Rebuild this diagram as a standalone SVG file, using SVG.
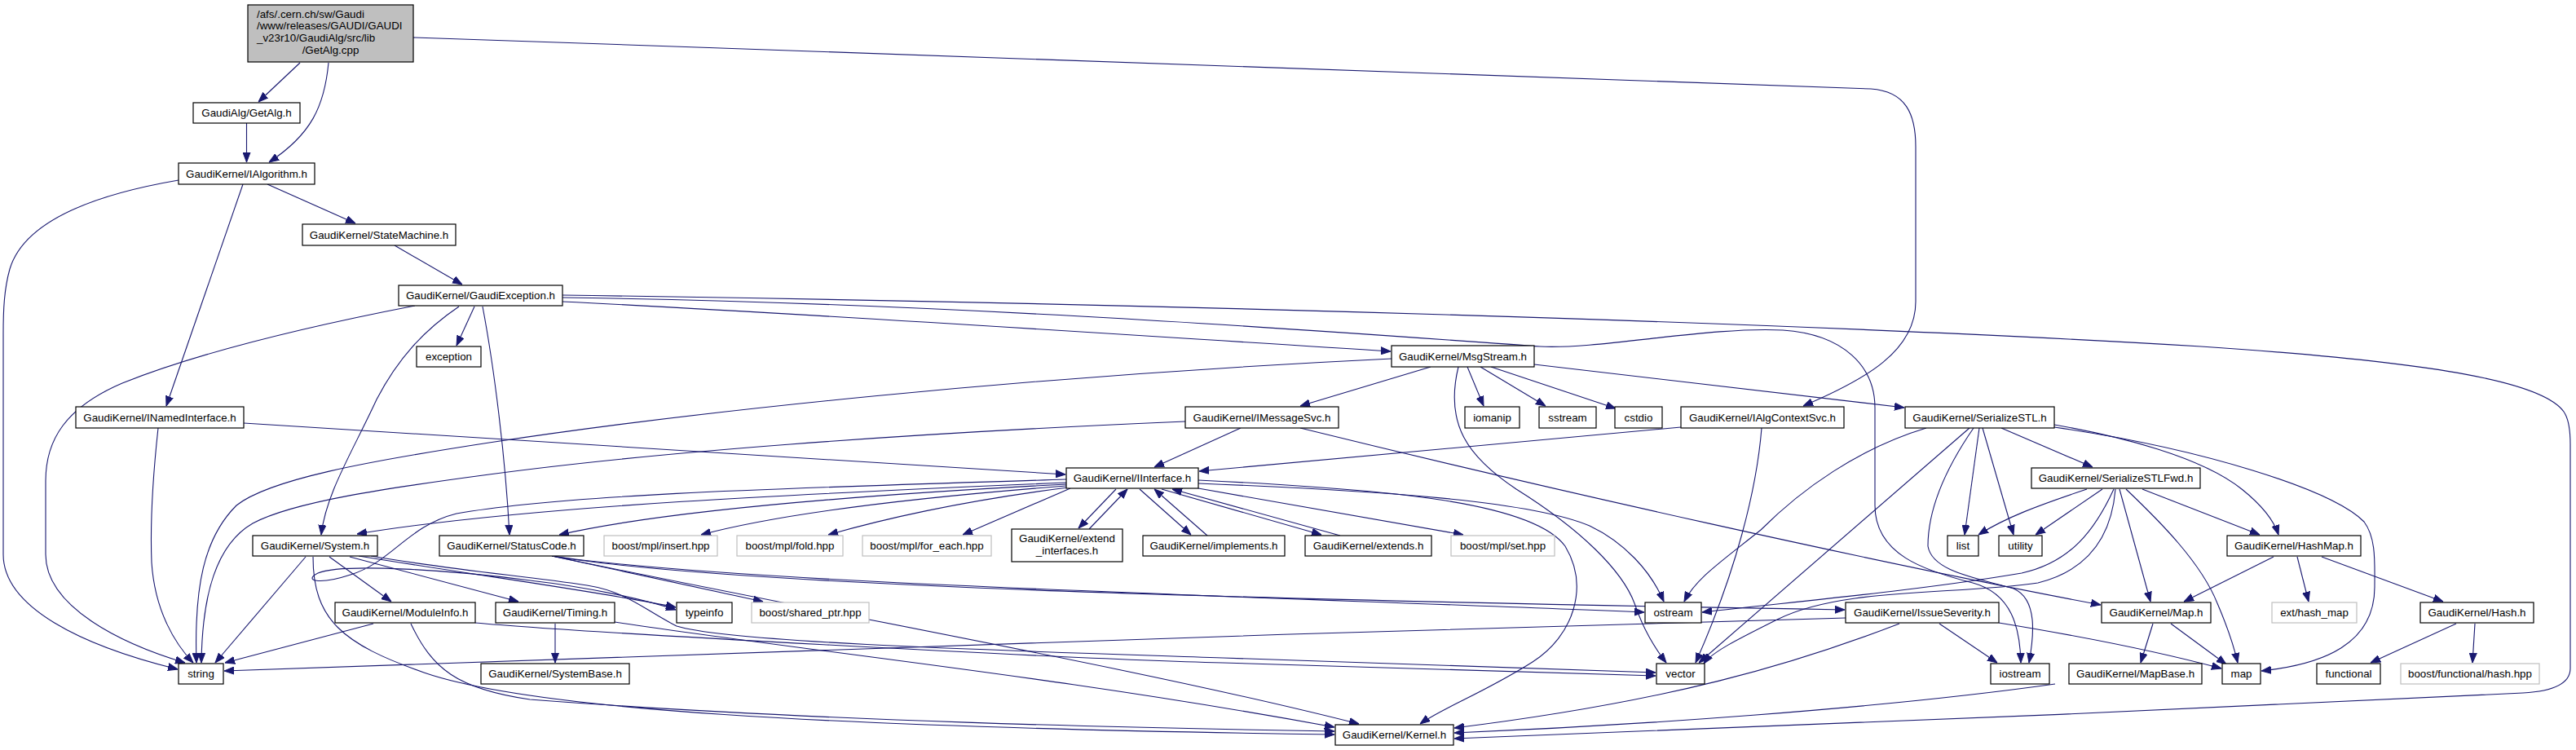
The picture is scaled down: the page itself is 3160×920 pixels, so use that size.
<svg xmlns="http://www.w3.org/2000/svg" width="3160" height="920" viewBox="0 0 3160 920">
<style>
.n rect{fill:#fff;stroke:#000;stroke-width:1.2}
.g rect{fill:#fff;stroke:#bfbfbf;stroke-width:1.2}
text{font-family:"Liberation Sans",Arial,sans-serif;font-size:13.33px;fill:#000;text-anchor:middle}
.e path{fill:none;stroke:#191970;stroke-width:1.1;marker-end:url(#arr)}
</style>
<defs>
<marker id="arr" viewBox="0 0 12 10" refX="12" refY="5" markerWidth="12" markerHeight="10" orient="auto" markerUnits="userSpaceOnUse"><path d="M0,0.5 L12,5 L0,9.5 z" fill="#191970" stroke="#191970" stroke-width="1"/></marker>
</defs>
<rect x="0" y="0" width="3160" height="920" fill="#fff"/>
<g class="e" id="edges">
<path d="M368,77 L317,125"/>
<path d="M403,77 C398,130 382,165 330,199"/>
<path d="M507,46 C1200,70 2000,96 2295,109 C2338,112 2350,140 2350,180 L2350,370 C2350,430 2290,465 2212,498"/>
<path d="M302.5,151 L302.5,199"/>
<path d="M219,221 C120,238 30,270 12,330 C5,355 4,380 4,410 L4,680 C4,745 100,792 218,821"/>
<path d="M298,226 L204,498"/>
<path d="M328,226 L436,274"/>
<path d="M484,301 L567,349"/>
<path d="M509,375 C380,400 250,430 150,470 C80,500 56,540 56,590 L56,680 C56,745 150,790 227,813"/>
<path d="M582,376 L560,424"/>
<path d="M563,376 C520,405 488,440 462,490 C432,555 400,605 394,656"/>
<path d="M592,376 C606,450 620,560 625,656"/>
<path d="M690,370 C1000,385 1400,412 1706,431"/>
<path d="M690,365 C1200,372 1700,412 1889,425 C1960,429 2100,400 2187,405 C2262,410 2300,450 2300,500 L2300,620 C2300,680 2360,700 2420,715 C2468,728 2478,770 2479,813"/>
<path d="M690,362 C1400,372 2200,395 2700,425 C3000,445 3120,470 3145,505 C3152,515 3153,530 3153,545 L3153,820 C3153,840 3130,848 3095,850 C2700,870 2100,895 1784,906"/>
<path d="M299,519 L1307,582"/>
<path d="M194,525 C188,580 184,640 186,690 C190,750 215,790 237,813"/>
<path d="M1707,440 C1250,462 850,505 600,543 C450,566 330,588 290,620 C250,660 238,720 241,813"/>
<path d="M1454,517 C1100,532 800,555 600,582 C480,598 360,615 310,642 C265,668 248,730 247,813"/>
<path d="M1755,450 L1595,498"/>
<path d="M1800,450 L1820,498"/>
<path d="M1816,450 L1896,498"/>
<path d="M1829,450 L1982,501"/>
<path d="M1789,450 C1772,520 1800,560 1860,600 C1940,650 1990,700 2005,740 C2015,770 2030,795 2044,813"/>
<path d="M1882,447 L2336,500"/>
<path d="M1522,525 L1416,573"/>
<path d="M1595,525 C1900,600 2300,690 2577,742"/>
<path d="M2062,524 L1471,578"/>
<path d="M2161,525 C2155,600 2130,700 2080,813"/>
<path d="M1308,592 C1000,605 650,620 438,655"/>
<path d="M1308,594 C1000,610 800,630 686,656"/>
<path d="M1308,596 C1100,612 950,632 860,656"/>
<path d="M1310,598 C1200,612 1100,632 1016,656"/>
<path d="M1313,599 L1181,656"/>
<path d="M1369,600 L1323,648"/>
<path d="M1336,649 L1383,600"/>
<path d="M1398,600 L1461,656"/>
<path d="M1481,657 L1416,600"/>
<path d="M1425,600 L1621,656"/>
<path d="M1644,657 L1438,600"/>
<path d="M1470,599 L1795,656"/>
<path d="M1470,589 C1700,600 1880,615 1920,670 C1950,720 1930,780 1880,812 C1820,850 1770,868 1742,888"/>
<path d="M1470,593 C1700,602 1880,615 1950,645 C1992,665 2025,700 2041,738"/>
<path d="M1308,588 C1000,598 700,605 560,630 C500,645 480,690 430,705 C390,718 372,712 390,703 C420,690 560,700 650,712 C720,720 790,735 829,748"/>
<path d="M375,683 L264,813"/>
<path d="M404,683 L480,738"/>
<path d="M429,683 L636,738"/>
<path d="M440,682 C600,708 750,728 829,745"/>
<path d="M455,682 C560,700 640,706 720,718 C770,726 790,748 830,768 C900,790 1300,800 1500,807 C1750,815 1900,820 2031,825"/>
<path d="M384,683 C384,760 420,790 520,825 C650,870 1000,892 1637,901"/>
<path d="M677,682 L936,738"/>
<path d="M677,682 C900,715 1500,730 2017,751"/>
<path d="M677,682 C900,720 1600,737 2263,748"/>
<path d="M677,682 C1000,750 1400,820 1667,888"/>
<path d="M458,765 L276,813"/>
<path d="M583,764 C700,775 1300,808 1500,813 C1750,820 1900,826 2031,829"/>
<path d="M504,765 C530,820 560,845 650,858 C1000,885 1400,893 1637,897"/>
<path d="M681,765 L681,813"/>
<path d="M754,763 C1000,800 1300,830 1637,892"/>
<path d="M2264,758 C1600,775 800,805 275,823"/>
<path d="M2330,765 C2200,815 2050,860 1784,893"/>
<path d="M2379,765 L2450,813"/>
<path d="M2452,764 C2550,780 2650,800 2725,820"/>
<path d="M2363,525 C2280,550 2210,600 2160,650 C2110,690 2080,710 2066,738"/>
<path d="M2416,525 L2084,813"/>
<path d="M2428,525 L2410,656"/>
<path d="M2432,525 L2470,656"/>
<path d="M2455,525 L2567,573"/>
<path d="M2421,525 C2390,570 2365,620 2365,670 C2370,700 2420,708 2470,722 C2500,735 2495,780 2489,813"/>
<path d="M2520,521 C2600,535 2700,560 2750,600 C2775,620 2790,640 2795,656"/>
<path d="M2520,524 C2700,550 2860,600 2900,640 C2915,660 2913,690 2913,720 C2913,790 2850,815 2774,823"/>
<path d="M2560,600 C2500,620 2460,635 2427,656"/>
<path d="M2579,600 L2497,656"/>
<path d="M2593,600 C2570,650 2540,690 2480,703 C2350,725 2200,738 2088,751"/>
<path d="M2595,600 C2590,660 2560,700 2500,715 C2400,730 2260,720 2180,760 C2130,785 2100,800 2090,814"/>
<path d="M2600,600 L2638,738"/>
<path d="M2608,600 C2650,640 2700,690 2720,740 C2735,775 2742,800 2745,813"/>
<path d="M2628,600 L2772,656"/>
<path d="M2789,683 L2679,738"/>
<path d="M2818,683 L2832,738"/>
<path d="M2848,683 L2997,738"/>
<path d="M3013,765 L2908,813"/>
<path d="M3036,765 L3033,813"/>
<path d="M2641,765 L2626,813"/>
<path d="M2663,765 L2731,815"/>
<path d="M2521,839 C2300,870 2000,890 1784,899"/>
</g>
<g class="n" id="n_root"><rect x="304" y="6" width="203" height="70" style="fill:#bfbfbf"/>
<text x="315" y="21.5" style="text-anchor:start">/afs/.cern.ch/sw/Gaudi</text>
<text x="315" y="36.2" style="text-anchor:start">/www/releases/GAUDI/GAUDI</text>
<text x="315" y="50.9" style="text-anchor:start">_v23r10/GaudiAlg/src/lib</text>
<text x="405.5" y="65.6">/GetAlg.cpp</text></g>
<g class="n" id="n_getalg"><rect x="237" y="126" width="131" height="25"/><text x="302.5" y="143">GaudiAlg/GetAlg.h</text></g>
<g class="n" id="n_ialgorithm"><rect x="219" y="200" width="167" height="26"/><text x="302.5" y="217.5">GaudiKernel/IAlgorithm.h</text></g>
<g class="n" id="n_statemachine"><rect x="371" y="275" width="188" height="26"/><text x="465" y="292.5">GaudiKernel/StateMachine.h</text></g>
<g class="n" id="n_gaudiexception"><rect x="489" y="350" width="201" height="25"/><text x="589.5" y="367">GaudiKernel/GaudiException.h</text></g>
<g class="n" id="n_exception"><rect x="511" y="425" width="79" height="25"/><text x="550.5" y="442">exception</text></g>
<g class="n" id="n_inamedinterface"><rect x="93" y="499" width="206" height="26"/><text x="196" y="516.5">GaudiKernel/INamedInterface.h</text></g>
<g class="n" id="n_msgstream"><rect x="1707" y="424" width="175" height="26"/><text x="1794.5" y="441.5">GaudiKernel/MsgStream.h</text></g>
<g class="n" id="n_imessagesvc"><rect x="1454" y="499" width="188" height="26"/><text x="1548" y="516.5">GaudiKernel/IMessageSvc.h</text></g>
<g class="n" id="n_iomanip"><rect x="1797" y="499" width="67" height="26"/><text x="1830.5" y="516.5">iomanip</text></g>
<g class="n" id="n_sstream"><rect x="1888" y="499" width="70" height="26"/><text x="1923" y="516.5">sstream</text></g>
<g class="n" id="n_cstdio"><rect x="1981" y="499" width="58" height="26"/><text x="2010" y="516.5">cstdio</text></g>
<g class="n" id="n_ialgcontextsvc"><rect x="2062" y="499" width="200" height="26"/><text x="2162" y="516.5">GaudiKernel/IAlgContextSvc.h</text></g>
<g class="n" id="n_serializestl"><rect x="2337" y="499" width="183" height="26"/><text x="2428.5" y="516.5">GaudiKernel/SerializeSTL.h</text></g>
<g class="n" id="n_iinterface"><rect x="1308" y="574" width="162" height="25"/><text x="1389" y="591">GaudiKernel/IInterface.h</text></g>
<g class="n" id="n_serializestlfwd"><rect x="2492" y="574" width="207" height="25"/><text x="2595.5" y="591">GaudiKernel/SerializeSTLFwd.h</text></g>
<g class="n" id="n_system"><rect x="310" y="657" width="153" height="25"/><text x="386.5" y="674">GaudiKernel/System.h</text></g>
<g class="n" id="n_statuscode"><rect x="539" y="657" width="177" height="25"/><text x="627.5" y="674">GaudiKernel/StatusCode.h</text></g>
<g class="g" id="n_insert"><rect x="741" y="657" width="139" height="25"/><text x="810.5" y="674">boost/mpl/insert.hpp</text></g>
<g class="g" id="n_fold"><rect x="904" y="657" width="130" height="25"/><text x="969" y="674">boost/mpl/fold.hpp</text></g>
<g class="g" id="n_foreach"><rect x="1058" y="657" width="158" height="25"/><text x="1137" y="674">boost/mpl/for_each.hpp</text></g>
<g class="n" id="n_extendinterfaces"><rect x="1241" y="649" width="136" height="40"/><text x="1309" y="665">GaudiKernel/extend</text><text x="1309" y="680">_interfaces.h</text></g>
<g class="n" id="n_implements"><rect x="1402" y="657" width="174" height="25"/><text x="1489" y="674">GaudiKernel/implements.h</text></g>
<g class="n" id="n_extends"><rect x="1601" y="657" width="155" height="25"/><text x="1678.5" y="674">GaudiKernel/extends.h</text></g>
<g class="g" id="n_set"><rect x="1780" y="657" width="127" height="25"/><text x="1843.5" y="674">boost/mpl/set.hpp</text></g>
<g class="n" id="n_list"><rect x="2389" y="657" width="38" height="25"/><text x="2408" y="674">list</text></g>
<g class="n" id="n_utility"><rect x="2452" y="657" width="53" height="25"/><text x="2478.5" y="674">utility</text></g>
<g class="n" id="n_hashmap"><rect x="2732" y="657" width="164" height="25"/><text x="2814" y="674">GaudiKernel/HashMap.h</text></g>
<g class="n" id="n_moduleinfo"><rect x="411" y="739" width="172" height="25"/><text x="497" y="756">GaudiKernel/ModuleInfo.h</text></g>
<g class="n" id="n_timing"><rect x="608" y="739" width="146" height="25"/><text x="681" y="756">GaudiKernel/Timing.h</text></g>
<g class="n" id="n_typeinfo"><rect x="830" y="739" width="68" height="25"/><text x="864" y="756">typeinfo</text></g>
<g class="g" id="n_sharedptr"><rect x="922" y="739" width="144" height="25"/><text x="994" y="756">boost/shared_ptr.hpp</text></g>
<g class="n" id="n_ostream"><rect x="2018" y="739" width="69" height="25"/><text x="2052.5" y="756">ostream</text></g>
<g class="n" id="n_issueseverity"><rect x="2264" y="739" width="188" height="25"/><text x="2358" y="756">GaudiKernel/IssueSeverity.h</text></g>
<g class="n" id="n_maph"><rect x="2578" y="739" width="134" height="25"/><text x="2645" y="756">GaudiKernel/Map.h</text></g>
<g class="g" id="n_exthashmap"><rect x="2787" y="739" width="104" height="25"/><text x="2839" y="756">ext/hash_map</text></g>
<g class="n" id="n_hash"><rect x="2969" y="739" width="139" height="25"/><text x="3038.5" y="756">GaudiKernel/Hash.h</text></g>
<g class="n" id="n_string"><rect x="219" y="814" width="55" height="25"/><text x="246.5" y="831">string</text></g>
<g class="n" id="n_systembase"><rect x="590" y="814" width="182" height="25"/><text x="681" y="831">GaudiKernel/SystemBase.h</text></g>
<g class="n" id="n_vector"><rect x="2032" y="814" width="59" height="25"/><text x="2061.5" y="831">vector</text></g>
<g class="n" id="n_iostream"><rect x="2442" y="814" width="72" height="25"/><text x="2478" y="831">iostream</text></g>
<g class="n" id="n_mapbase"><rect x="2538" y="814" width="163" height="25"/><text x="2619.5" y="831">GaudiKernel/MapBase.h</text></g>
<g class="n" id="n_map"><rect x="2726" y="814" width="47" height="25"/><text x="2749.5" y="831">map</text></g>
<g class="n" id="n_functional"><rect x="2842" y="814" width="78" height="25"/><text x="2881" y="831">functional</text></g>
<g class="g" id="n_boosthash"><rect x="2945" y="814" width="170" height="25"/><text x="3030" y="831">boost/functional/hash.hpp</text></g>
<g class="n" id="n_kernel"><rect x="1638" y="889" width="145" height="25"/><text x="1710.5" y="906">GaudiKernel/Kernel.h</text></g>
</svg>
